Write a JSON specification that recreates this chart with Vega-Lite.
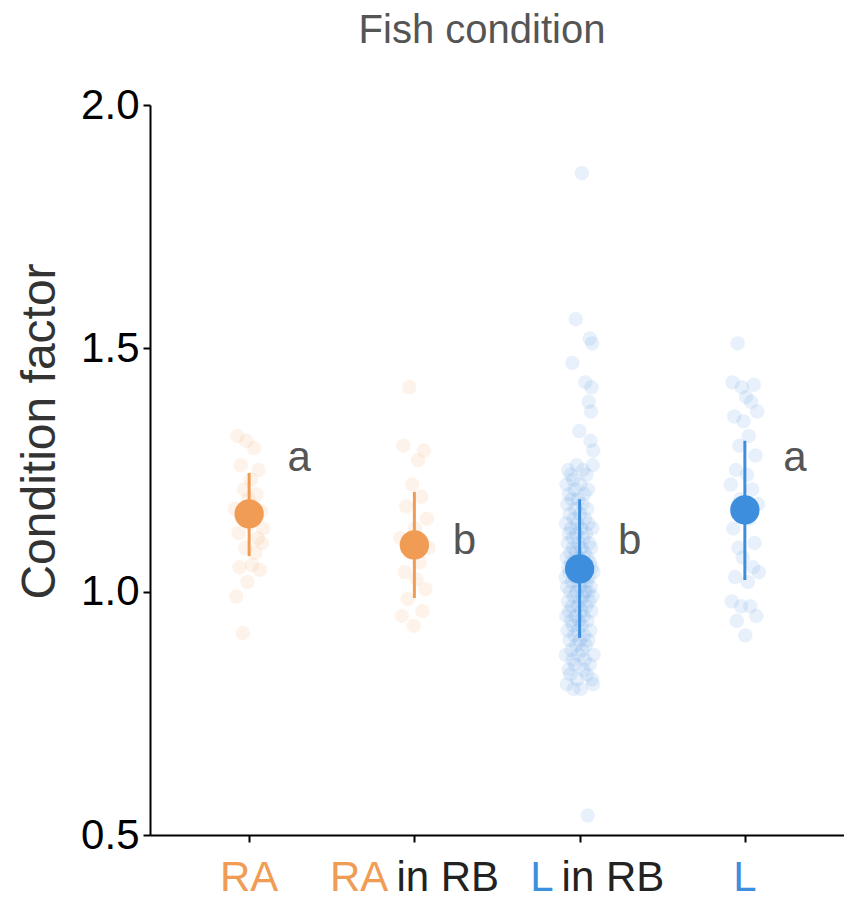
{
  "$schema": "https://vega.github.io/schema/vega-lite/v6.json",
  "autosize": "none",
  "width": 694,
  "height": 730,
  "padding": {"left": 150, "top": 105, "right": 0, "bottom": 65},
  "background": "white",
  "config": {"view": {"stroke": null}, "font": "Liberation Sans"},
  "title": {"text": "Fish condition", "fontSize": 40, "fontWeight": "normal", "color": "#555555", "font": "Liberation Sans", "anchor": "middle", "dx": -15, "offset": 33},
  "datasets": {
    "fish": [
      {"g":"RA","k":1.17},{"g":"RA","k":0.99},{"g":"RA","k":1.32},{"g":"RA","k":1.12},{"g":"RA","k":1.05},{"g":"RA","k":1.26},{"g":"RA","k":1.15},{"g":"RA","k":0.915},{"g":"RA","k":1.21},{"g":"RA","k":1.09},{"g":"RA","k":1.31},{"g":"RA","k":1.02},{"g":"RA","k":1.19},{"g":"RA","k":1.14},{"g":"RA","k":1.23},{"g":"RA","k":1.055},{"g":"RA","k":1.16},{"g":"RA","k":1.295},{"g":"RA","k":1.08},{"g":"RA","k":1.2},{"g":"RA","k":1.11},{"g":"RA","k":1.25},{"g":"RA","k":1.045},{"g":"RA","k":1.165},{"g":"RA","k":1.1},{"g":"RA","k":1.13},
      {"g":"RA in RB","k":1.11},{"g":"RA in RB","k":0.95},{"g":"RA in RB","k":1.3},{"g":"RA in RB","k":1.04},{"g":"RA in RB","k":1.175},{"g":"RA in RB","k":0.985},{"g":"RA in RB","k":1.42},{"g":"RA in RB","k":1.08},{"g":"RA in RB","k":1.22},{"g":"RA in RB","k":0.93},{"g":"RA in RB","k":1.13},{"g":"RA in RB","k":1.025},{"g":"RA in RB","k":1.27},{"g":"RA in RB","k":1.06},{"g":"RA in RB","k":1.195},{"g":"RA in RB","k":0.96},{"g":"RA in RB","k":1.29},{"g":"RA in RB","k":1.005},{"g":"RA in RB","k":1.15},{"g":"RA in RB","k":1.09},
      {"g":"L in RB","k":1.03},{"g":"L in RB","k":0.87},{"g":"L in RB","k":1.14},{"g":"L in RB","k":0.95},{"g":"L in RB","k":1.22},{"g":"L in RB","k":1.07},{"g":"L in RB","k":0.81},{"g":"L in RB","k":1.01},{"g":"L in RB","k":1.18},{"g":"L in RB","k":0.92},{"g":"L in RB","k":1.1},{"g":"L in RB","k":0.98},{"g":"L in RB","k":1.25},{"g":"L in RB","k":1.05},{"g":"L in RB","k":0.84},{"g":"L in RB","k":1.12},{"g":"L in RB","k":0.96},{"g":"L in RB","k":1.2},{"g":"L in RB","k":1.04},{"g":"L in RB","k":0.9},{"g":"L in RB","k":1.16},{"g":"L in RB","k":1.0},{"g":"L in RB","k":0.83},{"g":"L in RB","k":1.08},{"g":"L in RB","k":1.24},{"g":"L in RB","k":0.94},{"g":"L in RB","k":1.13},{"g":"L in RB","k":1.06},{"g":"L in RB","k":0.88},{"g":"L in RB","k":1.19},{"g":"L in RB","k":0.97},{"g":"L in RB","k":1.02},{"g":"L in RB","k":1.47},{"g":"L in RB","k":0.86},{"g":"L in RB","k":1.11},{"g":"L in RB","k":0.93},{"g":"L in RB","k":1.23},{"g":"L in RB","k":1.09},{"g":"L in RB","k":0.8},{"g":"L in RB","k":1.15},{"g":"L in RB","k":0.99},{"g":"L in RB","k":1.06},{"g":"L in RB","k":0.91},{"g":"L in RB","k":1.21},{"g":"L in RB","k":1.03},{"g":"L in RB","k":0.85},{"g":"L in RB","k":1.17},{"g":"L in RB","k":0.95},{"g":"L in RB","k":1.56},{"g":"L in RB","k":1.08},{"g":"L in RB","k":0.89},{"g":"L in RB","k":1.12},{"g":"L in RB","k":1.0},{"g":"L in RB","k":1.26},{"g":"L in RB","k":1.05},{"g":"L in RB","k":0.82},{"g":"L in RB","k":1.14},{"g":"L in RB","k":0.97},{"g":"L in RB","k":1.04},{"g":"L in RB","k":0.92},{"g":"L in RB","k":1.19},{"g":"L in RB","k":1.02},{"g":"L in RB","k":0.87},{"g":"L in RB","k":1.1},{"g":"L in RB","k":0.94},{"g":"L in RB","k":1.33},{"g":"L in RB","k":1.07},{"g":"L in RB","k":0.9},{"g":"L in RB","k":1.16},{"g":"L in RB","k":0.98},{"g":"L in RB","k":1.22},{"g":"L in RB","k":1.01},{"g":"L in RB","k":0.8},{"g":"L in RB","k":1.13},{"g":"L in RB","k":0.96},{"g":"L in RB","k":1.09},{"g":"L in RB","k":0.93},{"g":"L in RB","k":1.86},{"g":"L in RB","k":1.04},{"g":"L in RB","k":0.88},{"g":"L in RB","k":1.18},{"g":"L in RB","k":0.99},{"g":"L in RB","k":1.25},{"g":"L in RB","k":1.06},{"g":"L in RB","k":0.84},{"g":"L in RB","k":1.11},{"g":"L in RB","k":0.95},{"g":"L in RB","k":1.03},{"g":"L in RB","k":0.91},{"g":"L in RB","k":1.2},{"g":"L in RB","k":1.08},{"g":"L in RB","k":0.86},{"g":"L in RB","k":1.15},{"g":"L in RB","k":1.0},{"g":"L in RB","k":1.43},{"g":"L in RB","k":1.05},{"g":"L in RB","k":0.89},{"g":"L in RB","k":1.12},{"g":"L in RB","k":0.97},{"g":"L in RB","k":1.24},{"g":"L in RB","k":1.02},{"g":"L in RB","k":0.83},{"g":"L in RB","k":1.17},{"g":"L in RB","k":0.94},{"g":"L in RB","k":1.07},{"g":"L in RB","k":0.54},{"g":"L in RB","k":1.21},{"g":"L in RB","k":1.0},{"g":"L in RB","k":0.9},{"g":"L in RB","k":1.14},{"g":"L in RB","k":1.39},{"g":"L in RB","k":1.03},{"g":"L in RB","k":0.98},{"g":"L in RB","k":1.1},{"g":"L in RB","k":0.85},{"g":"L in RB","k":1.52},{"g":"L in RB","k":1.06},{"g":"L in RB","k":0.92},{"g":"L in RB","k":1.31},{"g":"L in RB","k":1.01},{"g":"L in RB","k":1.37},{"g":"L in RB","k":1.09},{"g":"L in RB","k":0.96},{"g":"L in RB","k":1.42},{"g":"L in RB","k":1.05},{"g":"L in RB","k":0.82},{"g":"L in RB","k":1.51},{"g":"L in RB","k":1.13},{"g":"L in RB","k":0.99},{"g":"L in RB","k":1.26},{"g":"L in RB","k":0.81},{"g":"L in RB","k":1.29},{"g":"L in RB","k":1.04},{"g":"L in RB","k":0.87},
      {"g":"L","k":1.22},{"g":"L","k":0.98},{"g":"L","k":1.43},{"g":"L","k":1.13},{"g":"L","k":1.36},{"g":"L","k":1.03},{"g":"L","k":1.25},{"g":"L","k":0.94},{"g":"L","k":1.51},{"g":"L","k":1.09},{"g":"L","k":1.3},{"g":"L","k":1.19},{"g":"L","k":0.97},{"g":"L","k":1.42},{"g":"L","k":1.07},{"g":"L","k":1.35},{"g":"L","k":1.16},{"g":"L","k":0.91},{"g":"L","k":1.4},{"g":"L","k":1.24},{"g":"L","k":1.02},{"g":"L","k":1.32},{"g":"L","k":1.15},{"g":"L","k":0.97},{"g":"L","k":1.39},{"g":"L","k":1.21},{"g":"L","k":1.05},{"g":"L","k":1.425},{"g":"L","k":1.1},{"g":"L","k":1.28},{"g":"L","k":0.95},{"g":"L","k":1.37},{"g":"L","k":1.18},{"g":"L","k":1.04}
    ],
    "summary": [
      {"g":"RA","mean":1.16,"lo":1.073,"hi":1.244,"letter":"a","ly":1.275},
      {"g":"RA in RB","mean":1.096,"lo":0.987,"hi":1.205,"letter":"b","ly":1.104},
      {"g":"L in RB","mean":1.047,"lo":0.905,"hi":1.19,"letter":"b","ly":1.104},
      {"g":"L","mean":1.168,"lo":1.024,"hi":1.31,"letter":"a","ly":1.275}
    ],
    "labels": [
      {"g":"RA","c":"RA","r":""},
      {"g":"RA in RB","c":"RA","r":"in RB"},
      {"g":"L in RB","c":"L","r":"in RB"},
      {"g":"L","c":"L","r":""}
    ]
  },
  "encoding": {
    "x": {
      "field": "g", "type": "nominal",
      "scale": {"type": "point", "domain": ["RA","RA in RB","L in RB","L"], "padding": 0.6},
      "axis": {"title": null, "labels": false, "ticks": true, "tickSize": 7, "tickWidth": 2, "tickColor": "#000000", "domainColor": "#000000", "domainWidth": 2, "grid": false}
    }
  },
  "layer": [
    {
      "data": {"name": "fish"},
      "transform": [
        {"window": [{"op": "row_number", "as": "n"}], "groupby": ["g"]},
        {"window": [{"op": "percent_rank", "as": "pr"}], "groupby": ["g"], "sort": [{"field": "n"}]}
      ],
      "mark": {"type": "circle", "size": 210, "opacity": 0.12},
      "encoding": {
        "xOffset": {"field": "pr", "type": "quantitative", "scale": {"type": "linear", "domain": [0, 1], "range": [-14, 14]}},
        "y": {
          "field": "k", "type": "quantitative",
          "scale": {"domain": [0.5, 2.0], "nice": false, "zero": false},
          "axis": {"values": [0.5, 1.0, 1.5, 2.0], "format": ".1f", "labelFontSize": 42, "labelColor": "#000000", "labelFont": "Liberation Sans", "tickSize": 7, "tickWidth": 2, "tickColor": "#000000", "domainColor": "#000000", "domainWidth": 2, "labelPadding": 4, "grid": false, "title": "Condition factor", "titleFontSize": 48, "titleFontWeight": "normal", "titleColor": "#333333", "titleFont": "Liberation Sans", "titlePadding": 16, "titleY": 326}
        },
        "color": {"field": "g", "type": "nominal", "scale": {"domain": ["RA","RA in RB","L in RB","L"], "range": ["#F19C55","#F19C55","#3E8EDE","#3E8EDE"]}, "legend": null}
      }
    },
    {
      "data": {"name": "summary"},
      "mark": {"type": "rule", "strokeWidth": 3},
      "encoding": {
        "y": {"field": "lo", "type": "quantitative"},
        "y2": {"field": "hi"},
        "color": {"field": "g", "type": "nominal", "legend": null}
      }
    },
    {
      "data": {"name": "summary"},
      "mark": {"type": "circle", "size": 860, "opacity": 1},
      "encoding": {
        "y": {"field": "mean", "type": "quantitative"},
        "color": {"field": "g", "type": "nominal", "legend": null}
      }
    },
    {
      "data": {"name": "summary"},
      "mark": {"type": "text", "fontSize": 42, "color": "#555555", "dx": 50, "align": "center", "baseline": "middle", "font": "Liberation Sans"},
      "encoding": {
        "y": {"field": "ly", "type": "quantitative"},
        "text": {"field": "letter"}
      }
    },
    {
      "data": {"name": "labels"},
      "transform": [{"filter": {"field": "r", "equal": ""}}],
      "mark": {"type": "text", "fontSize": 42, "dy": 43, "align": "center", "baseline": "middle", "font": "Liberation Sans"},
      "encoding": {
        "y": {"datum": 0.5},
        "text": {"field": "c"},
        "color": {"field": "g", "type": "nominal", "scale": {"domain": ["RA","RA in RB","L in RB","L"], "range": ["#F19C55","#F19C55","#3E8EDE","#3E8EDE"]}, "legend": null}
      }
    },
    {
      "data": {"name": "labels"},
      "transform": [{"filter": "datum.r != ''"}],
      "mark": {"type": "text", "fontSize": 42, "dy": 43, "dx": -26, "align": "right", "baseline": "middle", "font": "Liberation Sans"},
      "encoding": {
        "y": {"datum": 0.5},
        "text": {"field": "c"},
        "color": {"field": "g", "type": "nominal", "legend": null}
      }
    },
    {
      "data": {"name": "labels"},
      "transform": [{"filter": "datum.r != ''"}],
      "mark": {"type": "text", "fontSize": 42, "dy": 43, "dx": -18, "align": "left", "baseline": "middle", "font": "Liberation Sans", "color": "#222222"},
      "encoding": {
        "y": {"datum": 0.5},
        "text": {"field": "r"}
      }
    }
  ]
}
